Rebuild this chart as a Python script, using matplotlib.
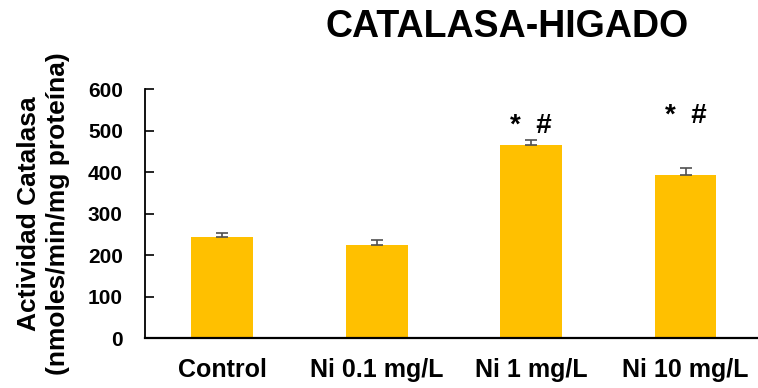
import matplotlib.pyplot as plt

plt.rcParams['font.family'] = ['Liberation Sans', 'DejaVu Sans']
plt.rcParams['font.weight'] = 'bold'

grupos = ['Control', 'Ni 0.1 mg/L', 'Ni 1 mg/L', 'Ni 10 mg/L']
catalasa = [243, 224, 466, 392]
error = [11, 12, 12, 19]
signif = ['', '', '*  #', '*  #']

fig = plt.figure(figsize=(7.58, 3.88), dpi=100)
ax = fig.add_axes([0.1913, 0.1276, 0.815, 0.643])

x = range(len(grupos))
ax.bar(x, catalasa, width=0.4, color='#FFC000', zorder=2)
ax.errorbar(x, catalasa, yerr=[[0] * len(error), error], fmt='none',
            ecolor='#505050', elinewidth=1.2, capsize=4, capthick=1.2, zorder=3)

# marcas de significancia sobre las barras
ax.text(2, 494, signif[2], ha='center', va='baseline', fontsize=20, fontweight='bold')
ax.text(3, 518, signif[3], ha='center', va='baseline', fontsize=20, fontweight='bold')

ax.set_xlim(-0.5, 3.5)
ax.set_ylim(0, 600)
ax.set_yticks(range(0, 601, 100))
ax.set_xticks(list(x))
ax.set_xticklabels(grupos)

for s in ['top', 'right']:
    ax.spines[s].set_visible(False)
ax.spines['left'].set_linewidth(1.3)
ax.spines['bottom'].set_linewidth(1.6)

ax.tick_params(axis='y', direction='in', length=6.5, width=1.2, pad=16, labelsize=15)
ax.tick_params(axis='x', length=0, pad=14, labelsize=18)

ax.set_ylabel('Actividad Catalasa\n(nmoles/min/mg proteína)', fontsize=19,
              fontweight='bold', linespacing=1.25)
ax.yaxis.set_label_coords(-0.122, 0.5)

fig.text(0.669, 0.93, 'CATALASA-HIGADO', ha='center', va='center',
         fontsize=27, fontweight='bold')

fig.savefig('out.png', dpi=100)
